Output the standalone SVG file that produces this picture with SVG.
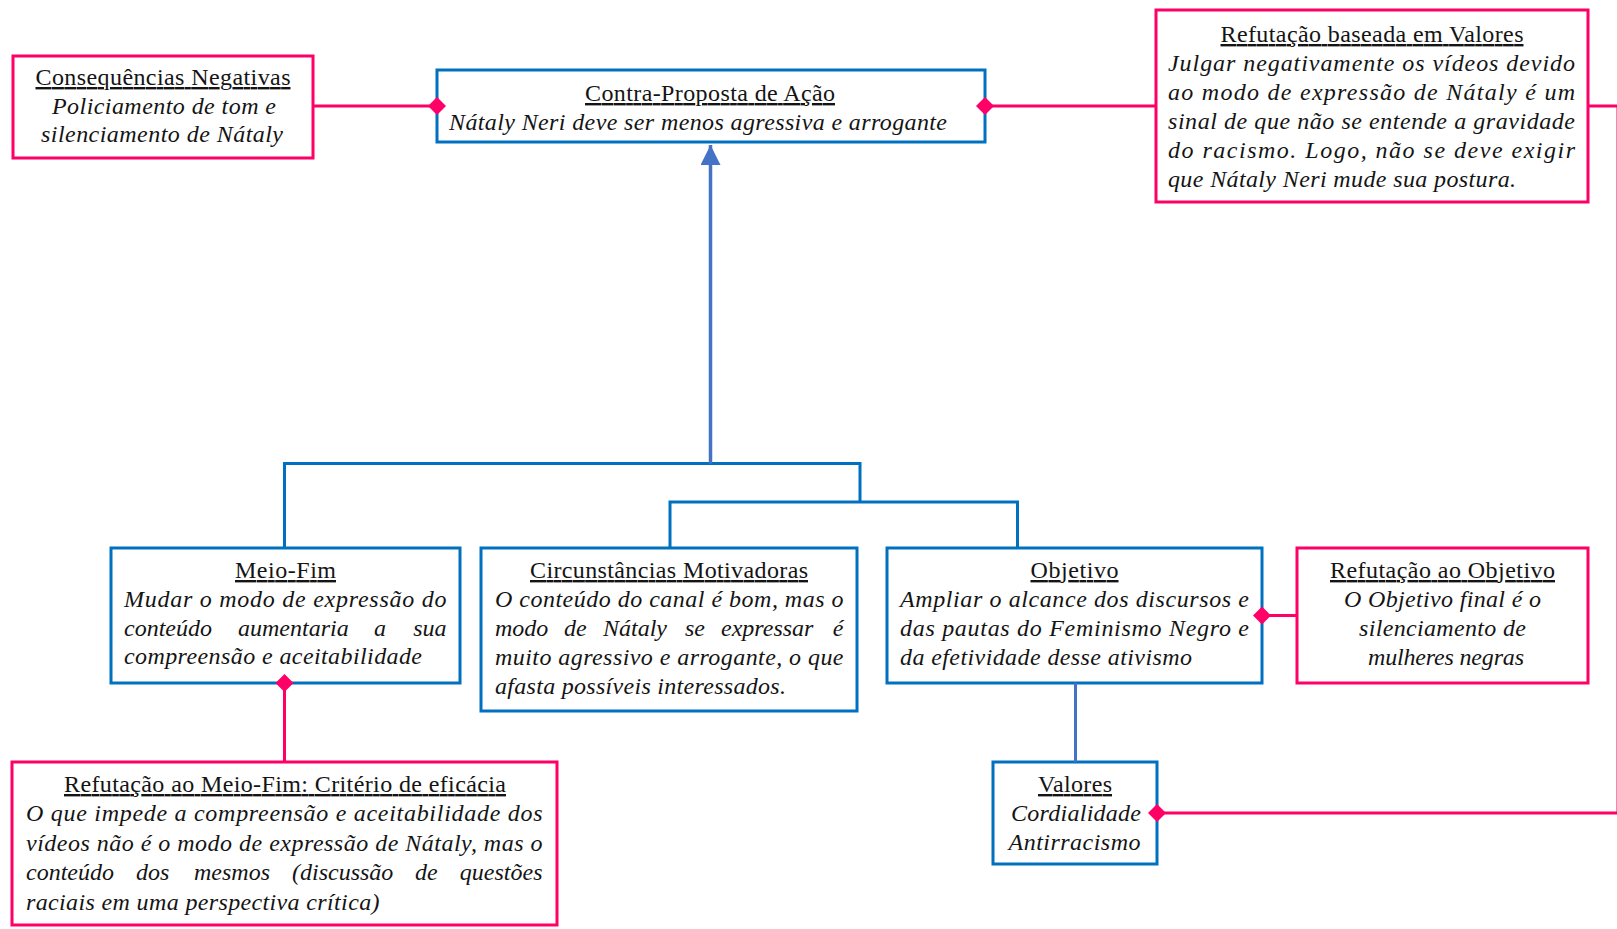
<svg xmlns="http://www.w3.org/2000/svg" width="1617" height="929" viewBox="0 0 1617 929">
  <style>
    .bx-blue { fill: #ffffff; stroke: #0070C0; stroke-width: 3; }
    .bx-pink { fill: #ffffff; stroke: #FF0066; stroke-width: 3; }
    .ttl { font-family: "Liberation Serif", "Times New Roman", serif; font-size: 24px; fill: #141414; text-decoration: underline; text-anchor: middle; }
    .txt { font-family: "Liberation Serif", "Times New Roman", serif; font-size: 24px; font-style: italic; fill: #141414; }
    .mid { text-anchor: middle; }
    .end { text-anchor: end; }
    .ln-blue { fill: none; stroke: #0070C0; stroke-width: 3; }
    .ln-arrow { fill: none; stroke: #4472C4; stroke-width: 3.5; }
    .ln-pink { fill: none; stroke: #FF0066; stroke-width: 3; }
    .dia { fill: #FF0066; }
  </style>
  <defs>
    <path id="diamond" d="M0,-9 L9,0 L0,9 L-9,0 Z"/>
    <marker id="arrowhead" viewBox="0 0 22 20" refX="20" refY="10" markerWidth="22" markerHeight="20" markerUnits="userSpaceOnUse" orient="auto">
      <path d="M0,0 L20,10 L0,20 Z" fill="#4472C4"/>
    </marker>
  </defs>

  <rect width="1617" height="929" fill="#ffffff"/>

  <!-- Negative consequences -->
  <g id="consequencias">
    <rect class="bx-pink" x="13" y="56" width="300" height="102"/>
    <text class="ttl" x="163" y="85" textLength="255" lengthAdjust="spacing">Consequências Negativas</text>
    <text class="txt mid" x="164" y="113.5" textLength="224" lengthAdjust="spacing">Policiamento de tom e</text>
    <text class="txt mid" x="162" y="142" textLength="242" lengthAdjust="spacing">silenciamento de Nátaly</text>
  </g>

  <!-- Counter-proposal -->
  <g id="contra-proposta">
    <rect class="bx-blue" x="437" y="70" width="548" height="72"/>
    <text class="ttl" x="710" y="101" textLength="250" lengthAdjust="spacing">Contra-Proposta de Ação</text>
    <text class="txt" x="449" y="130" textLength="498" lengthAdjust="spacing">Nátaly Neri deve ser menos agressiva e arrogante</text>
  </g>

  <!-- Value-based refutation -->
  <g id="refutacao-valores">
    <rect class="bx-pink" x="1156" y="10" width="432" height="192"/>
    <text class="ttl" x="1372" y="42" textLength="303" lengthAdjust="spacing">Refutação baseada em Valores</text>
    <text class="txt" x="1168" y="71" textLength="407" lengthAdjust="spacing">Julgar negativamente os vídeos devido</text>
    <text class="txt" x="1168" y="100" textLength="407" lengthAdjust="spacing">ao modo de expressão de Nátaly é um</text>
    <text class="txt" x="1168" y="129" textLength="407" lengthAdjust="spacing">sinal de que não se entende a gravidade</text>
    <text class="txt" x="1168" y="158" textLength="407" lengthAdjust="spacing">do racismo. Logo, não se deve exigir</text>
    <text class="txt" x="1168" y="187" textLength="348" lengthAdjust="spacing">que Nátaly Neri mude sua postura.</text>
  </g>

  <!-- Means-end -->
  <g id="meio-fim">
    <rect class="bx-blue" x="111" y="548" width="349" height="135"/>
    <text class="ttl" x="285.5" y="578" textLength="101" lengthAdjust="spacing">Meio-Fim</text>
    <text class="txt" x="124" y="607" textLength="322.5" lengthAdjust="spacing">Mudar o modo de expressão do</text>
    <text class="txt" y="635.5"><tspan x="124">conteúdo</tspan><tspan x="238">aumentaria</tspan><tspan x="374">a</tspan><tspan x="446.5" class="end">sua</tspan></text>
    <text class="txt" x="124" y="664" textLength="298" lengthAdjust="spacing">compreensão e aceitabilidade</text>
  </g>

  <!-- Motivating circumstances -->
  <g id="circunstancias">
    <rect class="bx-blue" x="481" y="548" width="376" height="163"/>
    <text class="ttl" x="669" y="578" textLength="278" lengthAdjust="spacing">Circunstâncias Motivadoras</text>
    <text class="txt" x="495" y="607" textLength="348.5" lengthAdjust="spacing">O conteúdo do canal é bom, mas o</text>
    <text class="txt" y="636"><tspan x="495">modo</tspan><tspan x="564">de</tspan><tspan x="603">Nátaly</tspan><tspan x="685">se</tspan><tspan x="721">expressar</tspan><tspan x="843.5" class="end">é</tspan></text>
    <text class="txt" x="495" y="665" textLength="348.5" lengthAdjust="spacing">muito agressivo e arrogante, o que</text>
    <text class="txt" x="495" y="694" textLength="291" lengthAdjust="spacing">afasta possíveis interessados.</text>
  </g>

  <!-- Goal -->
  <g id="objetivo">
    <rect class="bx-blue" x="887" y="548" width="375" height="135"/>
    <text class="ttl" x="1074.5" y="578" textLength="88" lengthAdjust="spacing">Objetivo</text>
    <text class="txt" x="900" y="607" textLength="349" lengthAdjust="spacing">Ampliar o alcance dos discursos e</text>
    <text class="txt" x="900" y="636" textLength="349" lengthAdjust="spacing">das pautas do Feminismo Negro e</text>
    <text class="txt" x="900" y="665" textLength="292" lengthAdjust="spacing">da efetividade desse ativismo</text>
  </g>

  <!-- Goal refutation -->
  <g id="refutacao-objetivo">
    <rect class="bx-pink" x="1297" y="548" width="291" height="135"/>
    <text class="ttl" x="1442.5" y="578" textLength="225" lengthAdjust="spacing">Refutação ao Objetivo</text>
    <text class="txt mid" x="1442.5" y="607" textLength="197" lengthAdjust="spacing">O Objetivo final é o</text>
    <text class="txt mid" x="1442.5" y="636" textLength="167" lengthAdjust="spacing">silenciamento de</text>
    <text class="txt mid" x="1446" y="665" textLength="156" lengthAdjust="spacing">mulheres negras</text>
  </g>

  <!-- Means-end refutation -->
  <g id="refutacao-meio-fim">
    <rect class="bx-pink" x="12" y="762" width="545" height="163"/>
    <text class="ttl" x="285" y="792" textLength="442" lengthAdjust="spacing">Refutação ao Meio-Fim: Critério de eficácia</text>
    <text class="txt" x="26" y="821" textLength="516.5" lengthAdjust="spacing">O que impede a compreensão e aceitabilidade dos</text>
    <text class="txt" x="26" y="850.5" textLength="516.5" lengthAdjust="spacing">vídeos não é o modo de expressão de Nátaly, mas o</text>
    <text class="txt" y="880"><tspan x="26">conteúdo</tspan><tspan x="136">dos</tspan><tspan x="194">mesmos</tspan><tspan x="292">(discussão</tspan><tspan x="415">de</tspan><tspan x="542.5" class="end">questões</tspan></text>
    <text class="txt" x="26" y="909.5" textLength="353.5" lengthAdjust="spacing">raciais em uma perspectiva crítica)</text>
  </g>

  <!-- Values -->
  <g id="valores">
    <rect class="bx-blue" x="993" y="762" width="164" height="102"/>
    <text class="ttl" x="1075" y="792" textLength="74" lengthAdjust="spacing">Valores</text>
    <text class="txt mid" x="1076" y="821" textLength="130" lengthAdjust="spacing">Cordialidade</text>
    <text class="txt mid" x="1074.5" y="850" textLength="132" lengthAdjust="spacing">Antirracismo</text>
  </g>

  <!-- Connectors -->
  <g id="connectors">
    <path class="ln-blue" d="M284.5,548 V463.5 H860 V502"/>
    <path class="ln-blue" d="M670,548 V502 H1017.5 V548"/>
    <path class="ln-arrow" d="M710.5,463.5 V145" marker-end="url(#arrowhead)"/>
    <path class="ln-arrow" d="M1075.5,683 V762" style="stroke-width:3"/>

    <path class="ln-pink" d="M313,106 H437"/>
    <path class="ln-pink" d="M985,106 H1156"/>
    <path class="ln-pink" d="M1588,106 H1618 V813 H1157"/>
    <path class="ln-pink" d="M284.5,683 V762"/>
    <path class="ln-pink" d="M1262,615.5 H1297"/>

    <use href="#diamond" class="dia" x="437" y="106"/>
    <use href="#diamond" class="dia" x="985" y="106"/>
    <use href="#diamond" class="dia" x="284.5" y="683"/>
    <use href="#diamond" class="dia" x="1262" y="615.5"/>
    <use href="#diamond" class="dia" x="1157" y="813"/>
  </g>
</svg>
